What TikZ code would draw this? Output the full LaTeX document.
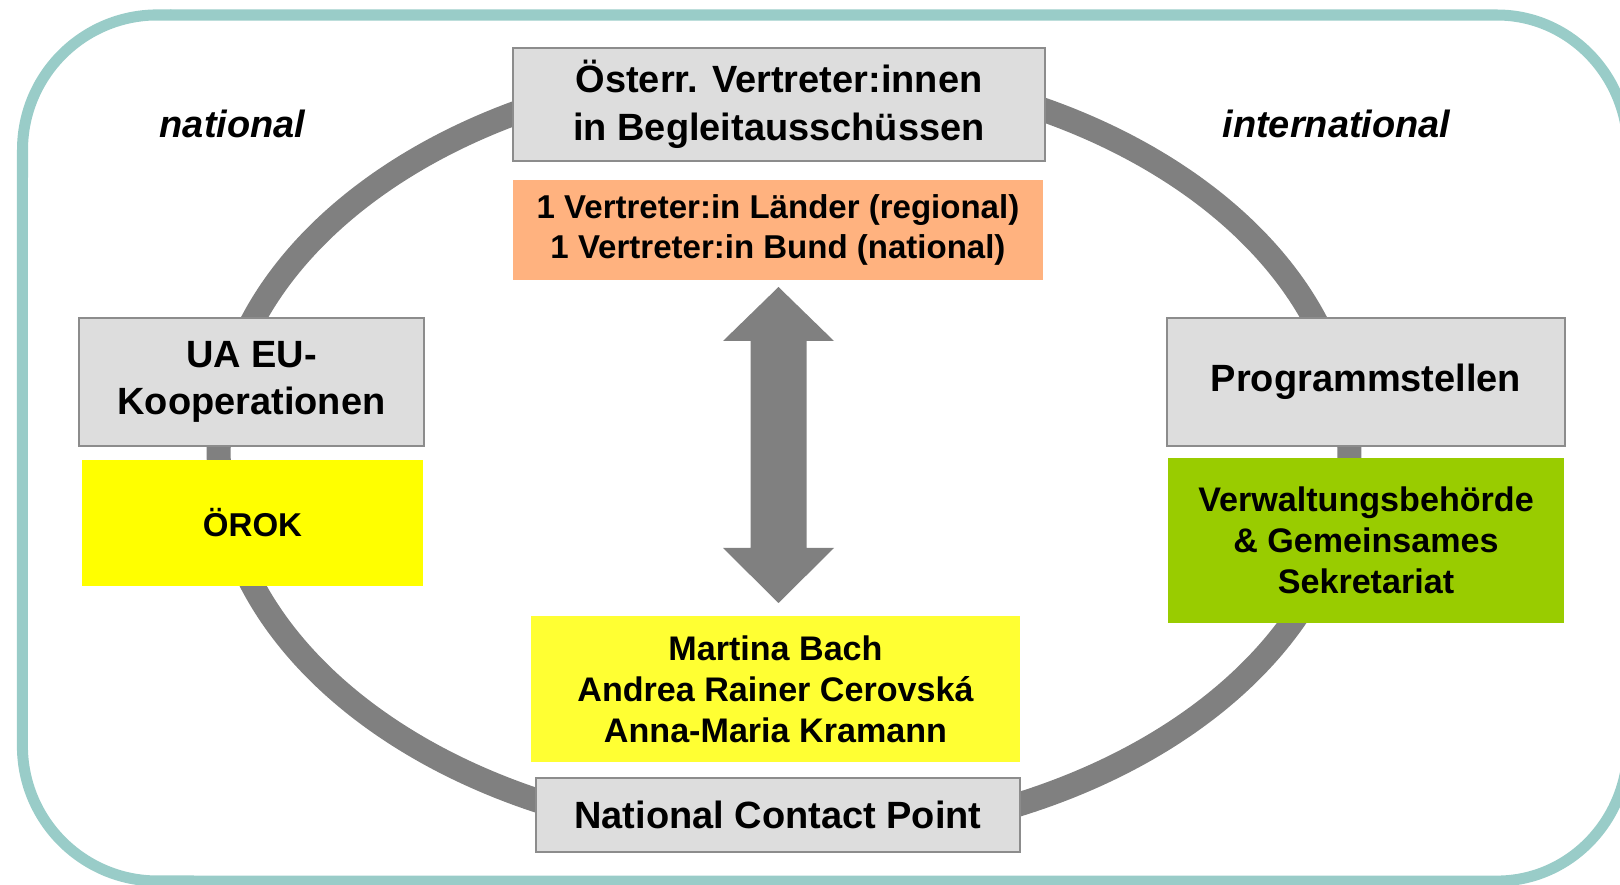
\documentclass[tikz,border=0pt]{standalone}
\usepackage{fontspec}
\setmainfont{Liberation Sans}
\definecolor{framec}{HTML}{99CCC8}
\definecolor{ringgray}{HTML}{808080}
\definecolor{boxfill}{HTML}{DDDDDD}
\definecolor{boxline}{HTML}{8C8C8C}
\definecolor{orangec}{HTML}{FFB27F}
\definecolor{yellowc}{HTML}{FFFF00}
\definecolor{paleyellow}{HTML}{FFFF33}
\definecolor{greenc}{HTML}{99CC00}
\newcommand\lblfont{\fontsize{10.8}{13.5}\selectfont\bfseries}
\newcommand\midfont{\fontsize{9.39}{11.4}\selectfont\bfseries}
\newcommand\namefont{\fontsize{9.7}{11.67}\selectfont\bfseries}
\newcommand\sidefont{\fontsize{10.8}{13.5}\selectfont\bfseries\itshape}
\begin{document}
\begin{tikzpicture}[x=0.01cm,y=-0.01cm,
  graybox/.style={draw=boxline, line width=0.6pt, fill=boxfill, inner sep=0pt, align=center, font=\lblfont},
  colbox/.style={inner sep=0pt, align=center},
  sidelabel/.style={inner sep=0pt, font=\sidefont}]
\useasboundingbox (0,0) rectangle (1620,885);
% outer frame (right side runs past the picture's edge)
\draw[framec, line width=3.13pt]
  (157.5,15) -- (1497,15)
  arc[start angle=90, end angle=0, x radius=1.31cm, y radius=1.35cm]
  -- (1628,746)
  arc[start angle=0, end angle=-90, x radius=1.31cm, y radius=1.35cm]
  -- (157.5,881)
  arc[start angle=270, end angle=180, radius=1.35cm]
  -- (22.5,150)
  arc[start angle=180, end angle=90, radius=1.35cm] -- cycle;
% ring
\draw[ringgray, line width=6.83pt] (784,453) ellipse [x radius=5.65cm, y radius=3.86cm];
% double arrow
\coordinate (atop) at (778.5,287);
\coordinate (abot) at (778.5,603);
\fill[ringgray] (atop) -- ++(55.5,54) -- ++(-27.5,0) -- ++(0,207) -- ++(27.5,0) -- (abot)
  -- ++(-55.5,-55) -- ++(27.5,0) -- ++(0,-207) -- ++(-27.5,0) -- cycle;
% boxes
\node[graybox, minimum width=5.32cm, minimum height=1.13cm] (oest) at (779,104.5) {Österr. Vertreter:innen\\in Begleitausschüssen};
\node[colbox, fill=orangec, minimum width=5.30cm, minimum height=1.00cm, font=\midfont] (reps) at (778,230) {1 Vertreter:in Länder (regional)\\1 Vertreter:in Bund (national)};
\node[graybox, minimum width=3.45cm, minimum height=1.28cm] (ua) at (251.5,382) {UA EU-\\Kooperationen};
\node[colbox, fill=yellowc, minimum width=3.41cm, minimum height=1.26cm, font=\midfont] (orok) at (252.5,523) {ÖROK};
\node[graybox, minimum width=3.98cm, minimum height=1.28cm] (prog) at (1366,382) {Programmstellen};
\node[colbox, fill=greenc, minimum width=3.96cm, minimum height=1.65cm, font=\namefont] (vb) at (1366,540.5) {Verwaltungsbehörde\\\& Gemeinsames\\Sekretariat};
\node[colbox, fill=paleyellow, minimum width=4.89cm, minimum height=1.46cm, font=\namefont] (names) at (775.5,689) {Martina Bach\\Andrea Rainer Cerovská\\Anna-Maria Kramann};
\node[graybox, minimum width=4.84cm, minimum height=0.74cm] (ncp) at (778,815) {National Contact Point};
% side labels
\node[sidelabel] (nat) at (232.5,124) {national};
\node[sidelabel] (intl) at (1336.5,124) {international};
\end{tikzpicture}
\end{document}
